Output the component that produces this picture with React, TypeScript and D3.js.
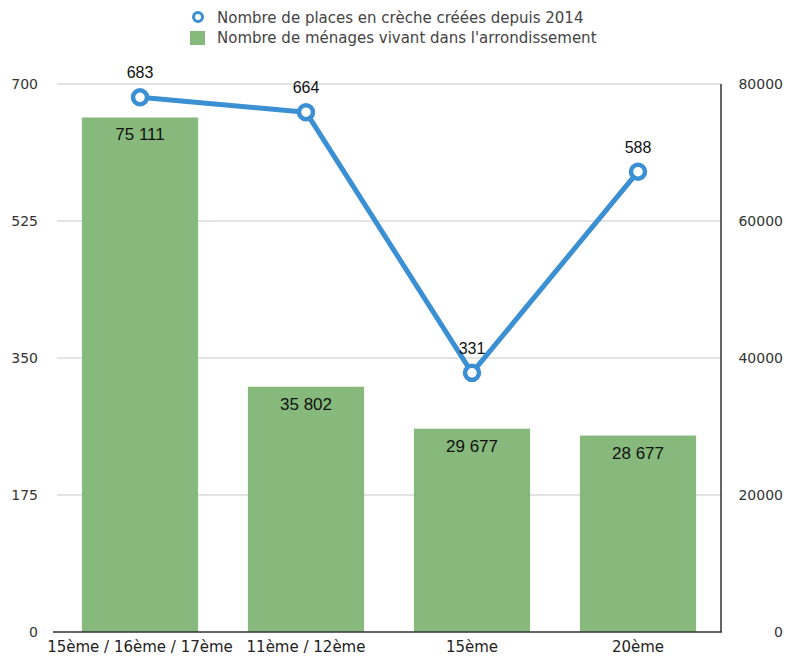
import React from "react";
import * as d3 from "d3";

const categories = ["15ème / 16ème / 17ème", "11ème / 12ème", "15ème", "20ème"];
const menages = [75111, 35802, 29677, 28677];
const places = [683, 664, 331, 588];
const leftTicks = [0, 175, 350, 525, 700];
const rightTicks = [0, 20000, 40000, 60000, 80000];
const legendLabels = [
  "Nombre de places en crèche créées depuis 2014",
  "Nombre de ménages vivant dans l'arrondissement",
];

const W = 786;
const H = 657;
const left = 57;
const right = 721;
const top = 84;
const bottom = 632;
const font = "'Liberation Sans', Arial, Helvetica, sans-serif";
const wideFont = "'DejaVu Sans', Verdana, sans-serif";
const blue = "#3b8fd3";
const green = "#86b97b";

export default function App() {
  const x = d3.scaleBand<string>().domain(categories).range([left, right]).paddingInner(0.3).paddingOuter(0.15);
  const yL = d3.scaleLinear().domain([0, 700]).range([bottom, top]);
  const yR = d3.scaleLinear().domain([0, 80000]).range([bottom, top]);
  const fmt = (v: number) => d3.format(",")(v).replace(/,/g, " ");
  const line = d3
    .line<number>()
    .x((_, i) => (x(categories[i]) as number) + x.bandwidth() / 2)
    .y((d) => yL(d));

  return (
    <svg width={W} height={H} style={{ position: "absolute", left: 0, top: 0, background: "#fff" }}>
      {/* gridlines */}
      {leftTicks.slice(1).map((t) => (
        <line key={t} x1={left} x2={right} y1={yL(t)} y2={yL(t)} stroke="#c8c8c8" strokeWidth={1} />
      ))}
      {/* bars */}
      {menages.map((v, i) => (
        <rect
          key={i}
          x={x(categories[i])}
          y={yR(v)}
          width={x.bandwidth()}
          height={bottom - yR(v)}
          fill={green}
        />
      ))}
      {menages.map((v, i) => (
        <text
          key={"bl" + i}
          x={(x(categories[i]) as number) + x.bandwidth() / 2}
          y={yR(v) + 23}
          textAnchor="middle"
          fontFamily={font}
          fontSize={17}
          fill="#111"
        >
          {fmt(v)}
        </text>
      ))}
      {/* axes */}
      <line x1={53} x2={right + 1} y1={bottom} y2={bottom} stroke="#333" strokeWidth={1.5} />
      <line x1={right} x2={right} y1={top} y2={bottom} stroke="#333" strokeWidth={1.5} />
      {leftTicks.map((t) => (
        <text key={"l" + t} x={38} y={yL(t) + 5} textAnchor="end" fontFamily={wideFont} fontSize={14} fill="#333">
          {t}
        </text>
      ))}
      {rightTicks.map((t) => (
        <text key={"r" + t} x={783} y={yR(t) + 5} textAnchor="end" fontFamily={wideFont} fontSize={14} fill="#333">
          {t}
        </text>
      ))}
      {categories.map((c) => (
        <text
          key={c}
          x={(x(c) as number) + x.bandwidth() / 2}
          y={652}
          textAnchor="middle"
          fontFamily={wideFont}
          fontSize={15}
          fill="#222"
        >
          {c}
        </text>
      ))}
      {/* line */}
      <path d={line(places) || ""} fill="none" stroke={blue} strokeWidth={5} strokeLinejoin="round" />
      {places.map((v, i) => (
        <circle
          key={"c" + i}
          cx={(x(categories[i]) as number) + x.bandwidth() / 2}
          cy={yL(v)}
          r={7}
          fill="#fff"
          stroke={blue}
          strokeWidth={4.5}
        />
      ))}
      {places.map((v, i) => (
        <text
          key={"pl" + i}
          x={(x(categories[i]) as number) + x.bandwidth() / 2}
          y={yL(v) - 19}
          textAnchor="middle"
          fontFamily={font}
          fontSize={16}
          fill="#111"
        >
          {v}
        </text>
      ))}
      {/* legend */}
      <circle cx={198} cy={17} r={4.5} fill="#fff" stroke={blue} strokeWidth={3} />
      <rect x={190} y={31} width={15} height={14} fill={green} />
      <text x={217} y={22.5} fontFamily={wideFont} fontSize={15} fill="#444">
        {legendLabels[0]}
      </text>
      <text x={217} y={43} fontFamily={wideFont} fontSize={15} fill="#444">
        {legendLabels[1]}
      </text>
    </svg>
  );
}
